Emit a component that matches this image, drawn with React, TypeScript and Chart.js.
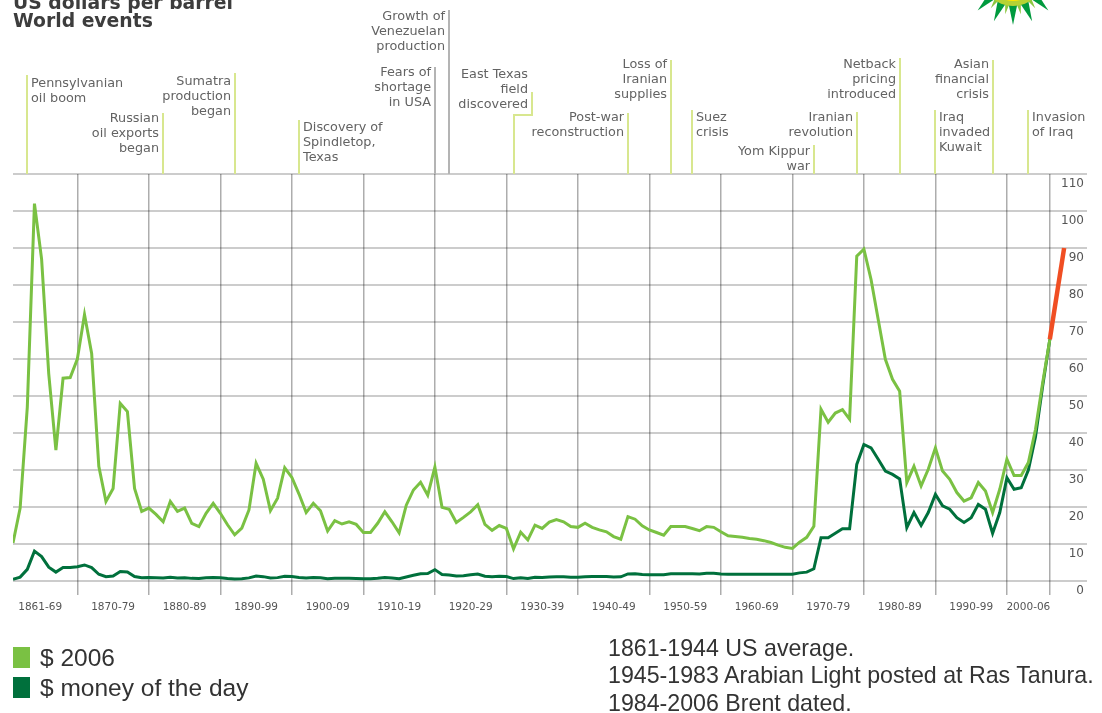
import React, { useEffect, useRef } from 'react';
import { Chart, registerables } from 'chart.js';

Chart.register(...registerables);

// ---------- data ----------
const FIRST_YEAR = 1861;

// Crude oil price, US dollars per barrel in $ 2006 (1861..2006)
const PRICE_2006 = [
  // 1861-1869
  10.3, 19.7, 47, 102, 87, 56, 35.4, 54.8, 55,
  // 1870s
  60, 72, 61.5, 31, 21.5, 25, 48, 45.8, 25, 18.8,
  // 1880s
  19.7, 18, 16, 21.5, 18.8, 19.7, 15.6, 14.7, 18.3, 21,
  // 1890s
  18.3, 15.2, 12.5, 14.3, 19.2, 31.8, 27.5, 19, 22.4, 30.6,
  // 1900s
  28, 23.5, 18.5, 21, 19, 13.5, 16.3, 15.4, 16, 15.3,
  // 1910s
  13.1, 13.1, 15.6, 18.7, 16, 13, 20.5, 24.6, 26.7, 23.2,
  // 1920s
  30.8, 19.9, 19.4, 15.8, 17.2, 18.7, 20.6, 15.3, 13.7, 15,
  // 1930s
  14.2, 8.7, 13.2, 11.1, 15.1, 14.2, 15.9, 16.6, 16.0, 14.7,
  // 1940s
  14.5, 15.6, 14.5, 13.8, 13.3, 12, 11.3, 17.4, 16.7, 14.9,
  // 1950s
  13.8, 13.1, 12.4, 14.7, 14.7, 14.7, 14.2, 13.6, 14.7, 14.5,
  // 1960s
  13.3, 12.2, 12.0, 11.8, 11.5, 11.3, 10.9, 10.4, 9.7, 9.1,
  // 1970s
  8.8, 10.5, 11.8, 14.8, 46.4, 42.9, 45.4, 46.3, 43.7, 87.8,
  // 1980s
  89.7, 81.5, 70.7, 59.9, 54.5, 51.3, 26.6, 31, 25.7, 30.2,
  // 1990s
  36, 29.7, 27.5, 23.9, 21.6, 22.5, 26.6, 24.3, 18.5, 24.8,
  // 2000-2006
  32.9, 28.5, 28.5, 32, 41, 53.6, 65.3,
];

// Crude oil price, money of the day (1861..2006)
const PRICE_MOD = [
  // 1861-1869
  0.49, 1.05, 3.15, 8.06, 6.59, 3.74, 2.41, 3.63, 3.64,
  // 1870s
  3.86, 4.34, 3.64, 1.83, 1.17, 1.35, 2.56, 2.42, 1.19, 0.86,
  // 1880s
  0.95, 0.86, 0.78, 1.0, 0.84, 0.88, 0.71, 0.67, 0.88, 0.94,
  // 1890s
  0.87, 0.67, 0.56, 0.64, 0.84, 1.36, 1.18, 0.79, 0.91, 1.29,
  // 1900s
  1.19, 0.96, 0.8, 0.94, 0.86, 0.62, 0.73, 0.72, 0.72, 0.7,
  // 1910s
  0.61, 0.61, 0.74, 0.95, 0.81, 0.64, 1.1, 1.56, 1.98, 2.01,
  // 1920s
  3.07, 1.73, 1.61, 1.34, 1.43, 1.68, 1.88, 1.3, 1.17, 1.27,
  // 1930s
  1.19, 0.65, 0.87, 0.67, 1.0, 0.97, 1.09, 1.18, 1.13, 1.02,
  // 1940s
  1.02, 1.14, 1.19, 1.2, 1.21, 1.05, 1.12, 1.9, 1.99, 1.78,
  // 1950s
  1.71, 1.71, 1.71, 1.93, 1.93, 1.93, 1.93, 1.9, 2.08, 2.08,
  // 1960s
  1.9, 1.8, 1.8, 1.8, 1.8, 1.8, 1.8, 1.8, 1.8, 1.8,
  // 1970s
  1.8, 2.2, 2.4, 3.3, 11.7, 11.7, 12.9, 14.1, 14.1, 31.5,
  // 1980s
  36.9, 36, 32.9, 29.7, 28.8, 27.6, 14.4, 18.5, 15, 18.5,
  // 1990s
  23.4, 20.3, 19.4, 17.1, 15.8, 17.1, 20.7, 19.4, 12.9, 18.5,
  // 2000-2006
  27.9, 24.8, 25.2, 30, 39, 52.7, 65.3,
];

// Red extension after 2006
const RECENT_YEARS = [2006, 2008];
const RECENT_VALUES = [65.3, 90];

// x axis: decade separators and decade labels
const GRID_YEARS = [1870, 1880, 1890, 1900, 1910, 1920, 1930, 1940, 1950, 1960, 1970, 1980, 1990, 2000, 2006];
const LABEL_YEARS = [1864.8, 1875, 1885, 1895, 1905, 1915, 1925, 1935, 1945, 1955, 1965, 1975, 1985, 1995, 2003];
const DECADE_LABELS = [
  '1861-69', '1870-79', '1880-89', '1890-99', '1900-09', '1910-19', '1920-29', '1930-39',
  '1940-49', '1950-59', '1960-69', '1970-79', '1980-89', '1990-99', '2000-06',
];

// y axis
const Y_MIN = 0;
const Y_MAX = 110;
const Y_STEP = 10;

// World events
const EVENT_YEARS = [1863, 1882, 1892, 1901, 1920, 1922, 1931, 1947, 1953, 1956, 1973, 1979, 1985, 1990, 1998, 2003];
const EVENT_LABELS = [
  ['Pennsylvanian', 'oil boom'],
  ['Russian', 'oil exports', 'began'],
  ['Sumatra', 'production', 'began'],
  ['Discovery of', 'Spindletop,', 'Texas'],
  ['Fears of', 'shortage', 'in USA'],
  ['Growth of', 'Venezuelan', 'production'],
  ['East Texas', 'field', 'discovered'],
  ['Post-war', 'reconstruction'],
  ['Loss of', 'Iranian', 'supplies'],
  ['Suez', 'crisis'],
  ['Yom Kippur', 'war'],
  ['Iranian', 'revolution'],
  ['Netback', 'pricing', 'introduced'],
  ['Iraq', 'invaded', 'Kuwait'],
  ['Asian', 'financial', 'crisis'],
  ['Invasion', 'of Iraq'],
];

// layout of the event callouts (top of leader line, first baseline, text side)
const EVENT_LAYOUT = [
  { top: 75, base: 86.5, side: 'right' },
  { top: 113, base: 122, side: 'left' },
  { top: 73, base: 84.5, side: 'left' },
  { top: 120, base: 131, side: 'right' },
  { top: 67, base: 76, side: 'left', gray: true },
  { top: 10, base: 19.5, side: 'left', gray: true },
  { top: 92, base: 78, side: 'left', elbowDx: 18, elbowY: 115 },
  { top: 113, base: 121, side: 'left' },
  { top: 60, base: 67.5, side: 'left' },
  { top: 110, base: 121, side: 'right' },
  { top: 145, base: 154.5, side: 'left' },
  { top: 112, base: 121, side: 'left' },
  { top: 58, base: 67.5, side: 'left' },
  { top: 110, base: 121, side: 'right' },
  { top: 60, base: 67.5, side: 'left' },
  { top: 110, base: 121, side: 'right' },
];

const LIGHT_GREEN = '#7ac143';
const DARK_GREEN = '#00703c';
const RED = '#f04e23';

const eventsPlugin = {
  id: 'worldEvents',
  afterDraw(chart: any) {
    const { ctx, chartArea, scales } = chart;
    const xs = scales.x;
    ctx.save();
    ctx.font = '12.8px "DejaVu Sans"';
    ctx.textBaseline = 'alphabetic';
    EVENT_YEARS.forEach((yr, i) => {
      const L: any = EVENT_LAYOUT[i];
      const x = Math.round(xs.getPixelForValue(yr));
      ctx.strokeStyle = L.gray ? '#b4b4b4' : '#d8e78f';
      ctx.lineWidth = 2;
      ctx.beginPath();
      let anchor = x;
      if (L.elbowDx) {
        anchor = x + L.elbowDx;
        ctx.moveTo(anchor, L.top);
        ctx.lineTo(anchor, L.elbowY);
        ctx.lineTo(x, L.elbowY);
        ctx.lineTo(x, chartArea.top);
      } else {
        ctx.moveTo(x, L.top);
        ctx.lineTo(x, chartArea.top);
      }
      ctx.stroke();
      ctx.fillStyle = '#636363';
      ctx.textAlign = L.side === 'left' ? 'right' : 'left';
      const tx = L.side === 'left' ? anchor - 4 : anchor + 4;
      EVENT_LABELS[i].forEach((s, j) => ctx.fillText(s, tx, L.base + j * 15));
    });
    ctx.restore();
  },
};

function Text(props: { left: number; top: number; size: number; family: string; weight?: number; color: string; children: any }) {
  return (
    <div
      style={{
        position: 'absolute',
        left: props.left,
        top: props.top,
        fontSize: props.size,
        fontFamily: props.family,
        fontWeight: props.weight ?? 400,
        color: props.color,
        lineHeight: 1,
        whiteSpace: 'nowrap',
      }}
    >
      {props.children}
    </div>
  );
}

function Logo() {
  const cx = 50;
  const cy = -25;
  const outer: string[] = [];
  const inner: string[] = [];
  const n = 16;
  for (let k = 0; k < n; k++) {
    const a = (k * 2 * Math.PI) / n;
    const w = (Math.PI / n) * 0.85;
    const p = (r: number, ang: number) => `${(cx + r * Math.cos(ang)).toFixed(1)},${(cy + r * Math.sin(ang)).toFixed(1)}`;
    outer.push(`${p(28, a - w)} ${p(50, a)} ${p(28, a + w)}`);
    const b = a + Math.PI / n;
    inner.push(`${p(22, b - w)} ${p(40, b)} ${p(22, b + w)}`);
  }
  return (
    <svg width={100} height={30} style={{ position: 'absolute', left: 963, top: 0 }}>
      {outer.map((pts, i) => (
        <polygon key={'o' + i} points={pts} fill="#009a3e" />
      ))}
      {inner.map((pts, i) => (
        <polygon key={'i' + i} points={pts} fill="#8cc63f" />
      ))}
      <circle cx={cx} cy={cy} r={31} fill="#b5d334" />
      <circle cx={cx} cy={cy} r={26} fill="#ffe600" />
    </svg>
  );
}

export default function App() {
  const ref = useRef<HTMLCanvasElement>(null);

  useEffect(() => {
    const toPoints = (vals: number[]) => vals.map((v, i) => ({ x: FIRST_YEAR + i, y: v }));
    const chart = new Chart(ref.current as HTMLCanvasElement, {
      type: 'line',
      data: {
        datasets: [
          {
            label: 'recent',
            data: RECENT_YEARS.map((x, i) => ({ x, y: RECENT_VALUES[i] })),
            borderColor: RED,
            borderWidth: 4.5,
            pointRadius: 0,
            xAxisID: 'x',
            yAxisID: 'y',
          },
          {
            label: '$ 2006',
            data: toPoints(PRICE_2006),
            borderColor: LIGHT_GREEN,
            borderWidth: 3,
            pointRadius: 0,
            xAxisID: 'x',
            yAxisID: 'y',
          },
          {
            label: '$ money of the day',
            data: toPoints(PRICE_MOD),
            borderColor: DARK_GREEN,
            borderWidth: 3,
            pointRadius: 0,
            xAxisID: 'x',
            yAxisID: 'y',
          },
        ],
      },
      options: {
        responsive: false,
        animation: false,
        devicePixelRatio: 1,
        layout: { padding: { top: 174, left: 13, right: 15, bottom: 78 } },
        plugins: { legend: { display: false }, tooltip: { enabled: false } },
        elements: { line: { tension: 0 } },
        scales: {
          x: {
            type: 'linear',
            position: 'bottom',
            min: FIRST_YEAR,
            max: 2011.2,
            weight: 0,
            afterBuildTicks: (s: any) => {
              s.ticks = GRID_YEARS.map((v) => ({ value: v }));
            },
            afterFit: (s: any) => {
              s.height = 14;
            },
            grid: { color: 'rgba(0,0,0,0.32)', lineWidth: 1.5, drawTicks: true, tickLength: 14 },
            border: { display: false },
            ticks: { display: false },
          },
          xl: {
            type: 'linear',
            position: 'bottom',
            min: FIRST_YEAR,
            max: 2011.2,
            weight: 1,
            afterBuildTicks: (s: any) => {
              s.ticks = LABEL_YEARS.map((v) => ({ value: v }));
            },
            afterFit: (s: any) => {
              s.height = 40;
            },
            grid: { display: false, drawTicks: false },
            border: { display: false },
            ticks: {
              autoSkip: false,
              maxRotation: 0,
              minRotation: 0,
              padding: 6,
              color: '#555',
              font: { family: 'DejaVu Sans', size: 10.5 },
              callback: (_v: any, i: number) => DECADE_LABELS[i],
            },
          },
          y: {
            type: 'linear',
            position: 'right',
            min: Y_MIN,
            max: Y_MAX,
            afterFit: (s: any) => {
              s.width = 0;
            },
            grid: { color: 'rgba(0,0,0,0.2)', lineWidth: 2, drawTicks: false },
            border: { display: false },
            ticks: {
              stepSize: Y_STEP,
              mirror: true,
              padding: -3,
              labelOffset: 10,
              color: '#555',
              font: { family: 'DejaVu Sans', size: 12 },
            },
          },
        },
      } as any,
      plugins: [eventsPlugin],
    });
    return () => chart.destroy();
  }, []);

  return (
    <div style={{ position: 'absolute', left: 0, top: 0, width: 1102, height: 713, overflow: 'hidden', background: '#fff' }}>
      <canvas ref={ref} width={1102} height={713} style={{ position: 'absolute', left: 0, top: 0 }} />
      <Logo />
      <Text left={13} top={-6} size={18.8} family="DejaVu Sans" weight={700} color="#3d3d3d">US dollars per barrel</Text>
      <Text left={13} top={12.4} size={18.8} family="DejaVu Sans" weight={700} color="#3d3d3d">World events</Text>

      <div style={{ position: 'absolute', left: 13, top: 647, width: 17, height: 21, background: LIGHT_GREEN }} />
      <div style={{ position: 'absolute', left: 13, top: 677, width: 17, height: 21, background: DARK_GREEN }} />
      <Text left={40} top={646} size={24.5} family="Liberation Sans" color="#333">$ 2006</Text>
      <Text left={40} top={676} size={24.5} family="Liberation Sans" color="#333">$ money of the day</Text>

      <Text left={608} top={636.6} size={23.2} family="Liberation Sans" color="#333">1861-1944 US average.</Text>
      <Text left={608} top={663.6} size={23.2} family="Liberation Sans" color="#333">1945-1983 Arabian Light posted at Ras Tanura.</Text>
      <Text left={608} top={691.6} size={23.2} family="Liberation Sans" color="#333">1984-2006 Brent dated.</Text>
    </div>
  );
}
